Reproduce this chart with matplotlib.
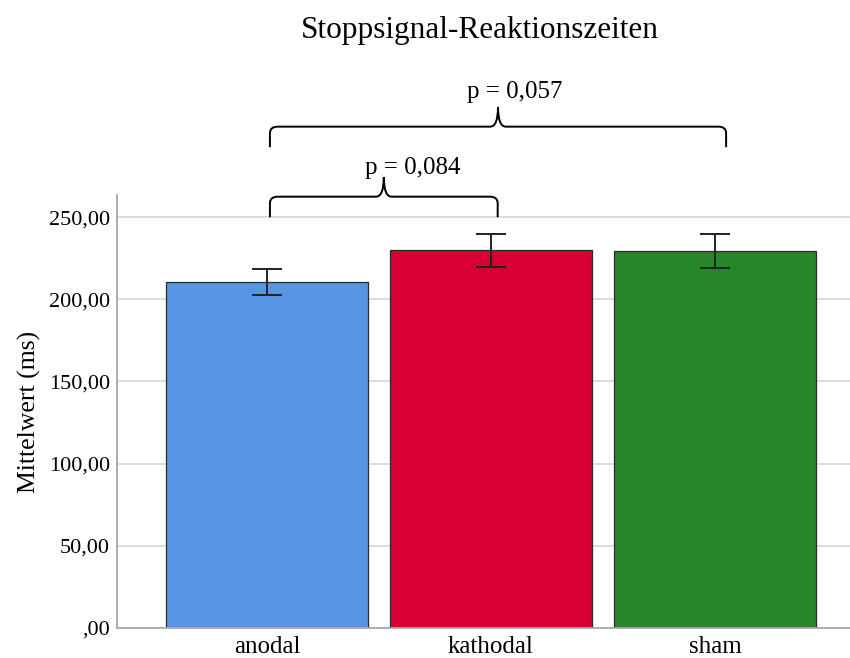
import matplotlib
matplotlib.use("Agg")
import matplotlib.pyplot as plt
from matplotlib.path import Path
from matplotlib.patches import PathPatch
from matplotlib.ticker import FuncFormatter

plt.rcParams['font.family'] = ['Liberation Serif', 'DejaVu Serif']

groups = ['anodal', 'kathodal', 'sham']
means = [210.3, 229.7, 229.4]
errors = [8.0, 10.1, 10.1]
colors = ['#5595E3', '#D60032', '#27852A']

# brackets: (left group, right group, p label)
comparisons = [(0, 1, 'p = 0,084'), (0, 2, 'p = 0,057')]
bracket_y = [262.4, 305.0]
label_pos = [(0.652, 279.8), (1.107, 326.0)]

fig = plt.figure(figsize=(8.5, 6.58), dpi=100)
ax = fig.add_axes([0.1376, 0.0456, 0.88, 0.658])

x = list(range(len(groups)))
ax.bar(x, means, width=0.9, color=colors, edgecolor='#2b2b2b', linewidth=0.9, zorder=2)
ax.errorbar(x, means, yerr=errors, fmt='none', ecolor='#222222', elinewidth=1.4,
            capsize=10.8, capthick=1.4, zorder=3)

ax.set_xlim(-0.67, 2.67)
ax.set_ylim(0, 263.4)
ax.set_yticks([0, 50, 100, 150, 200, 250])
ax.yaxis.set_major_formatter(FuncFormatter(
    lambda v, p: ',00' if v == 0 else f'{v:.2f}'.replace('.', ',')))
ax.set_xticks(x)
ax.set_xticklabels(groups)
ax.tick_params(axis='both', length=0)
ax.tick_params(axis='y', pad=5, labelsize=16)
ax.tick_params(axis='x', pad=6, labelsize=18)
ax.yaxis.grid(True, color='#d4d4d4', linewidth=1.2, zorder=0)
ax.set_axisbelow(True)
for s in ['top', 'right']:
    ax.spines[s].set_visible(False)
for s in ['left', 'bottom']:
    ax.spines[s].set_color('#a8a8a8')
    ax.spines[s].set_linewidth(1.3)
ax.set_ylabel('Mittelwert (ms)', fontsize=18.5, labelpad=6)

fig.text(0.565, 0.954, 'Stoppsignal-Reaktionszeiten', fontsize=22.5,
         ha='center', va='center')


def brace(ax, x0, x1, yh, depth=12.5, tip=12.0, rx=0.035, ry=4.0):
    xm = (x0 + x1) / 2
    verts = [(x0, yh - depth), (x0, yh - ry), (x0, yh), (x0 + rx, yh),
             (xm - rx, yh), (xm, yh), (xm, yh + tip),
             (xm, yh), (xm + rx, yh),
             (x1 - rx, yh), (x1, yh), (x1, yh - ry), (x1, yh - depth)]
    codes = [Path.MOVETO, Path.LINETO, Path.CURVE3, Path.CURVE3,
             Path.LINETO, Path.CURVE3, Path.CURVE3,
             Path.CURVE3, Path.CURVE3,
             Path.LINETO, Path.CURVE3, Path.CURVE3, Path.LINETO]
    ax.add_patch(PathPatch(Path(verts, codes), fill=False, edgecolor='black',
                           linewidth=1.4, clip_on=False, zorder=4))


for (i, j, label), yh, (tx, ty) in zip(comparisons, bracket_y, label_pos):
    brace(ax, i + 0.013, j + 0.02 * (j - i) + 0.01, yh)
    ax.text(tx, ty, label, fontsize=18, ha='center', va='center', clip_on=False)

fig.savefig('out.png', dpi=100)
